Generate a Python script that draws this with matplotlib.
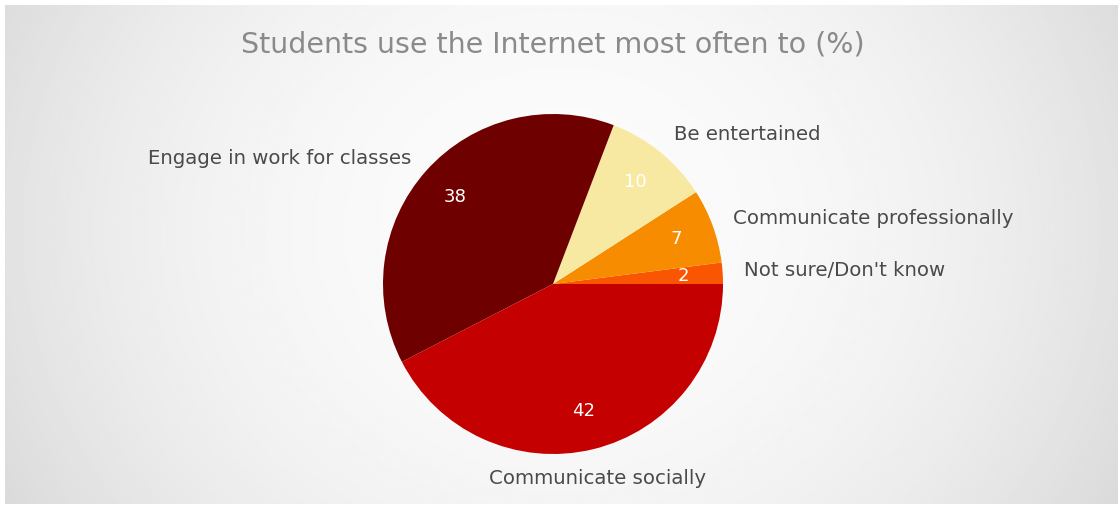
import numpy as np
import matplotlib
matplotlib.use("Agg")
import matplotlib.pyplot as plt

# data
categories = ["Not sure/Don't know", "Communicate professionally", "Be entertained",
              "Engage in work for classes", "Communicate socially"]
values = [2, 7, 10, 38, 42]
colors = ["#fa5500", "#f88c00", "#f8e9a2", "#6e0000", "#c40000"]

W, H = 1118, 508
fig = plt.figure(figsize=(W / 100, H / 100), dpi=100)
fig.patch.set_facecolor("white")
ax = fig.add_axes([0, 0, 1, 1])

# soft background, white in the middle, grey towards the sides
yy, xx = np.mgrid[0:1:300j, 0:1:600j]
d = np.sqrt(((xx - 0.5) / 0.55) ** 2 + ((yy - 0.45) / 1.1) ** 2)
shade = 0.985 - 0.12 * np.clip(d, 0, 1.3) ** 2.2
ax.imshow(shade, cmap="gray", vmin=0, vmax=1, extent=[5, W, 4, H - 5],
          aspect="auto", zorder=0, interpolation="bilinear")

center = (553, H - 284)
radius = 170
wedges, texts, autotexts = ax.pie(
    values, colors=colors, startangle=0, counterclock=True,
    center=center, radius=radius, frame=True,
    autopct=lambda p: "%d" % round(p * sum(values) / 100.0),
    pctdistance=0.77, wedgeprops=dict(linewidth=0),
    textprops=dict(color="white", fontsize=13, family="DejaVu Sans"))
ax.set_xlim(0, W)
ax.set_ylim(0, H)
ax.set_aspect("equal")
ax.axis("off")

# outside labels
label_pos = [(744, 271, "left"), (733, 218, "left"), (674, 135, "left"),
             (411, 158, "right"), (598, 479, "center")]
for name, (x, y, ha) in zip(categories, label_pos):
    ax.text(x, H - y, name, ha=ha, va="center", fontsize=14.2,
            color="#4a4a4a", family="DejaVu Sans")

ax.text(553, H - 44, "Students use the Internet most often to (%)", ha="center",
        va="center", fontsize=20.5, color="#8a8a8a", family="DejaVu Sans")

fig.savefig("out.png", dpi=100, facecolor="white")
